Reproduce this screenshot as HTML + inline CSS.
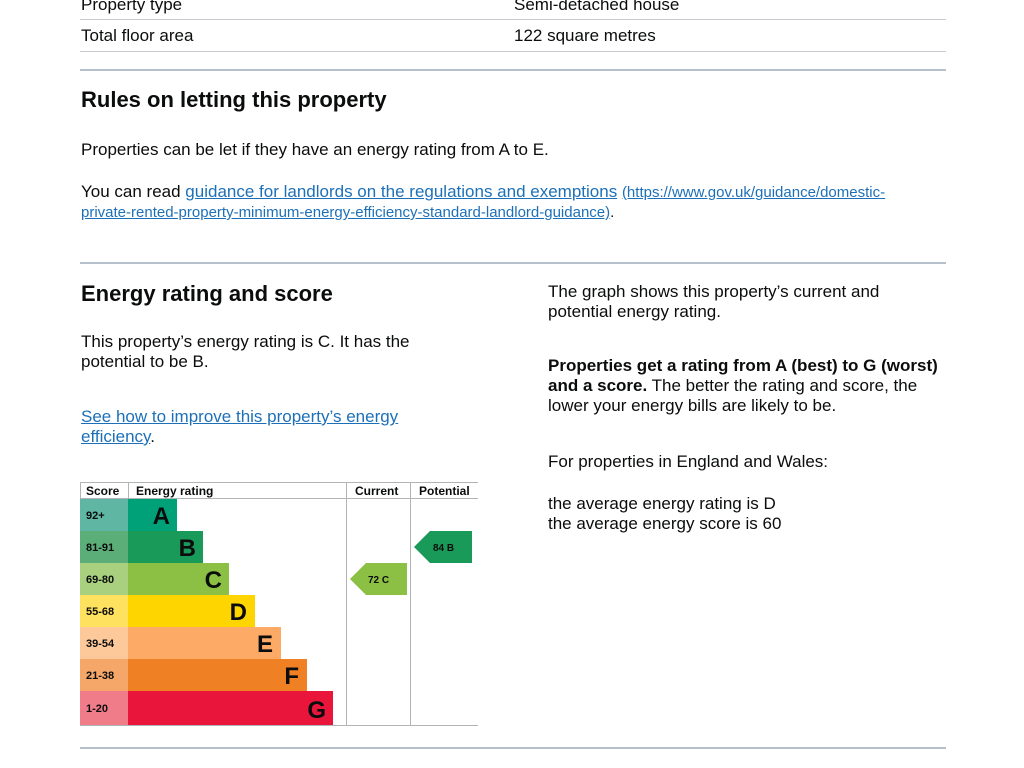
<!DOCTYPE html>
<html><head><meta charset="utf-8"><style>
body{margin:0;width:1024px;height:768px;background:#fff;position:relative;overflow:hidden;font-family:"Liberation Sans",Arial,sans-serif;color:#0b0c0c}
.t{position:absolute;font-size:17px;line-height:20px;white-space:nowrap}
.h{position:absolute;font-size:22px;font-weight:bold;white-space:nowrap}
.l{position:absolute;height:1px;background:#c8ccd0}
.s{position:absolute;height:2px;background:#b4c0cc}
a{color:#1d70b8;text-decoration:underline}
.u{font-size:15px}
</style></head><body>
<div class="t" style="left:81px;top:-5px">Property type</div>
<div class="t" style="left:514px;top:-5px">Semi-detached house</div>
<div class="l" style="left:80px;top:19px;width:866px"></div>
<div class="t" style="left:81px;top:26px">Total floor area</div>
<div class="t" style="left:514px;top:26px">122 square metres</div>
<div class="l" style="left:80px;top:51px;width:866px"></div>
<div class="s" style="left:80px;top:69px;width:866px"></div>
<div class="h" style="left:81px;top:87px">Rules on letting this property</div>
<div class="t" style="left:81px;top:140px">Properties can be let if they have an energy rating from A to E.</div>
<div class="t" style="left:81px;top:182px">You can read <a>guidance for landlords on the regulations and exemptions</a> <a class="u">(https://www.gov.uk/guidance/domestic-</a></div>
<div class="t u" style="left:81px;top:203px"><a>private-rented-property-minimum-energy-efficiency-standard-landlord-guidance)</a>.</div>
<div class="s" style="left:80px;top:262px;width:866px"></div>
<div class="h" style="left:81px;top:281px">Energy rating and score</div>
<div class="t" style="left:81px;top:332px">This property’s energy rating is C. It has the<br>potential to be B.</div>
<div class="t" style="left:81px;top:407px"><a>See how to improve this property’s energy<br>efficiency</a>.</div>
<div class="t" style="left:548px;top:282px">The graph shows this property’s current and<br>potential energy rating.</div>
<div class="t" style="left:548px;top:356px"><b>Properties get a rating from A (best) to G (worst)<br>and a score.</b> The better the rating and score, the<br>lower your energy bills are likely to be.</div>
<div class="t" style="left:548px;top:452px">For properties in England and Wales:</div>
<div class="t" style="left:548px;top:494px">the average energy rating is D<br>the average energy score is 60</div>
<svg style="position:absolute;left:0;top:0" width="1024" height="768" font-family="Liberation Sans,Arial,sans-serif" font-weight="bold">
<g stroke="#b1b4b6" stroke-width="1" fill="none">
<line x1="80" y1="482.5" x2="478" y2="482.5"/>
<line x1="80" y1="725.5" x2="478" y2="725.5"/>
<line x1="80.5" y1="482" x2="80.5" y2="499"/>
<line x1="80" y1="498.5" x2="478" y2="498.5"/>
<line x1="346.5" y1="482" x2="346.5" y2="726"/>
<line x1="410.5" y1="482" x2="410.5" y2="726"/>
<line x1="128.5" y1="482" x2="128.5" y2="498"/>
</g>
<g font-size="12" fill="#0b0c0c"><text x="86" y="495">Score</text><text x="136" y="495">Energy rating</text><text x="355" y="495">Current</text><text x="419" y="495">Potential</text></g>
<g>
<rect x="80" y="499" width="48" height="32" fill="#5fb7a3"/><rect x="128" y="499" width="49" height="32" fill="#00a079"/>
<rect x="80" y="531" width="48" height="32" fill="#5bae78"/><rect x="128" y="531" width="75" height="32" fill="#1a9a58"/>
<rect x="80" y="563" width="48" height="32" fill="#a8d07f"/><rect x="128" y="563" width="101" height="32" fill="#8cc044"/>
<rect x="80" y="595" width="48" height="32" fill="#ffe160"/><rect x="128" y="595" width="127" height="32" fill="#ffd500"/>
<rect x="80" y="627" width="48" height="32" fill="#fdc99a"/><rect x="128" y="627" width="153" height="32" fill="#fcaa65"/>
<rect x="80" y="659" width="48" height="32" fill="#f5a769"/><rect x="128" y="659" width="179" height="32" fill="#ef8023"/>
<rect x="80" y="691" width="48" height="34" fill="#f07c89"/><rect x="128" y="691" width="205" height="34" fill="#e9153b"/>
</g>
<g font-size="11" fill="#0b0c0c"><text x="86" y="519">92+</text><text x="86" y="551">81-91</text><text x="86" y="583">69-80</text><text x="86" y="615">55-68</text><text x="86" y="647">39-54</text><text x="86" y="679">21-38</text><text x="86" y="712">1-20</text></g>
<g font-size="24" fill="#0b0c0c" text-anchor="end"><text x="170" y="524">A</text><text x="196" y="556">B</text><text x="222" y="588">C</text><text x="247" y="620">D</text><text x="273" y="652">E</text><text x="299" y="684">F</text><text x="326" y="718">G</text></g>
<polygon points="350,579 366,563 407,563 407,595 366,595" fill="#8cc044"/>
<text x="368" y="583" font-size="10" fill="#0b0c0c">72  C</text>
<polygon points="414,547 430,531 472,531 472,563 430,563" fill="#1a9a58"/>
<text x="433" y="551" font-size="10" fill="#0b0c0c">84  B</text>
</svg>
<div class="s" style="left:80px;top:747px;width:866px"></div>
</body></html>
